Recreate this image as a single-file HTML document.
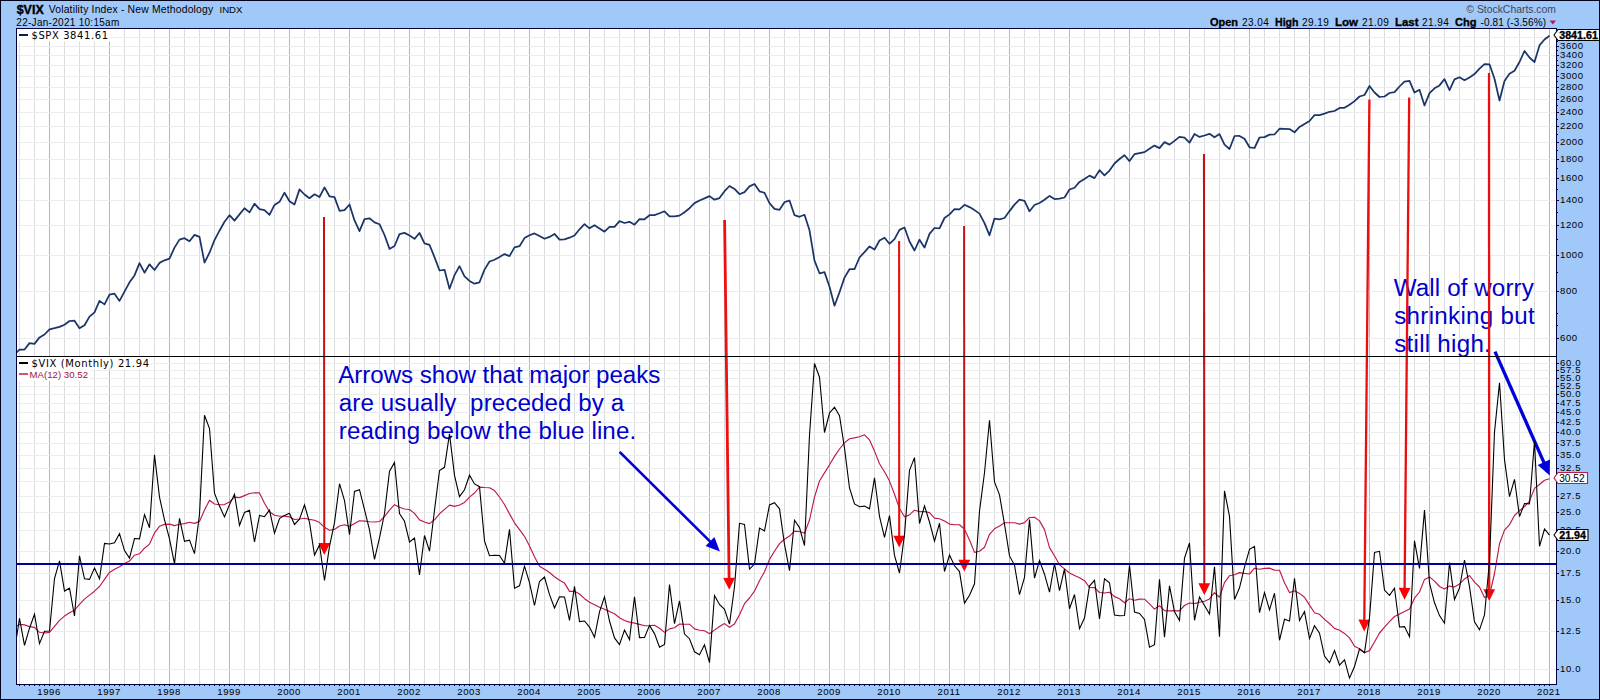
<!DOCTYPE html>
<html><head><meta charset="utf-8"><title>$VIX Volatility Index - New Methodology</title>
<style>
html,body{margin:0;padding:0;background:#a0c8f9;}
body{width:1600px;height:700px;overflow:hidden;position:relative;font-family:"Liberation Sans",sans-serif;}
svg{position:absolute;left:0;top:0;display:block}
text{font-family:"Liberation Sans",sans-serif;}
.ax{font-size:9.6px;fill:#000;letter-spacing:0.6px}
.yr{font-size:9.6px;fill:#000;text-anchor:middle;letter-spacing:0.6px}
.leg{font-family:"DejaVu Sans","Liberation Sans",sans-serif;font-size:10px;fill:#000}
.note{font-size:24.15px;fill:#0000cc}
</style></head><body>
<svg width="1600" height="700" viewBox="0 0 1600 700">
<rect x="0" y="0" width="1600" height="700" fill="#a0c8f9"/>
<rect x="16.5" y="28.5" width="1540.0" height="656.0" fill="#ffffff"/>

<g shape-rendering="crispEdges" stroke-width="1">
<line x1="19.5" y1="28.5" x2="19.5" y2="684.5" stroke="#dadce0"/>
<line x1="34.5" y1="28.5" x2="34.5" y2="684.5" stroke="#dadce0"/>
<line x1="49.5" y1="28.5" x2="49.5" y2="684.5" stroke="#b5b7be"/>
<line x1="64.5" y1="28.5" x2="64.5" y2="684.5" stroke="#dadce0"/>
<line x1="79.5" y1="28.5" x2="79.5" y2="684.5" stroke="#dadce0"/>
<line x1="94.5" y1="28.5" x2="94.5" y2="684.5" stroke="#dadce0"/>
<line x1="109.5" y1="28.5" x2="109.5" y2="684.5" stroke="#b5b7be"/>
<line x1="124.5" y1="28.5" x2="124.5" y2="684.5" stroke="#dadce0"/>
<line x1="139.5" y1="28.5" x2="139.5" y2="684.5" stroke="#dadce0"/>
<line x1="154.5" y1="28.5" x2="154.5" y2="684.5" stroke="#dadce0"/>
<line x1="169.5" y1="28.5" x2="169.5" y2="684.5" stroke="#b5b7be"/>
<line x1="184.5" y1="28.5" x2="184.5" y2="684.5" stroke="#dadce0"/>
<line x1="199.5" y1="28.5" x2="199.5" y2="684.5" stroke="#dadce0"/>
<line x1="214.5" y1="28.5" x2="214.5" y2="684.5" stroke="#dadce0"/>
<line x1="229.5" y1="28.5" x2="229.5" y2="684.5" stroke="#b5b7be"/>
<line x1="244.5" y1="28.5" x2="244.5" y2="684.5" stroke="#dadce0"/>
<line x1="259.5" y1="28.5" x2="259.5" y2="684.5" stroke="#dadce0"/>
<line x1="274.5" y1="28.5" x2="274.5" y2="684.5" stroke="#dadce0"/>
<line x1="289.5" y1="28.5" x2="289.5" y2="684.5" stroke="#b5b7be"/>
<line x1="304.5" y1="28.5" x2="304.5" y2="684.5" stroke="#dadce0"/>
<line x1="319.5" y1="28.5" x2="319.5" y2="684.5" stroke="#dadce0"/>
<line x1="334.5" y1="28.5" x2="334.5" y2="684.5" stroke="#dadce0"/>
<line x1="349.5" y1="28.5" x2="349.5" y2="684.5" stroke="#b5b7be"/>
<line x1="364.5" y1="28.5" x2="364.5" y2="684.5" stroke="#dadce0"/>
<line x1="379.5" y1="28.5" x2="379.5" y2="684.5" stroke="#dadce0"/>
<line x1="394.5" y1="28.5" x2="394.5" y2="684.5" stroke="#dadce0"/>
<line x1="409.5" y1="28.5" x2="409.5" y2="684.5" stroke="#b5b7be"/>
<line x1="424.5" y1="28.5" x2="424.5" y2="684.5" stroke="#dadce0"/>
<line x1="439.5" y1="28.5" x2="439.5" y2="684.5" stroke="#dadce0"/>
<line x1="454.5" y1="28.5" x2="454.5" y2="684.5" stroke="#dadce0"/>
<line x1="469.5" y1="28.5" x2="469.5" y2="684.5" stroke="#b5b7be"/>
<line x1="484.5" y1="28.5" x2="484.5" y2="684.5" stroke="#dadce0"/>
<line x1="499.5" y1="28.5" x2="499.5" y2="684.5" stroke="#dadce0"/>
<line x1="514.5" y1="28.5" x2="514.5" y2="684.5" stroke="#dadce0"/>
<line x1="529.5" y1="28.5" x2="529.5" y2="684.5" stroke="#b5b7be"/>
<line x1="544.5" y1="28.5" x2="544.5" y2="684.5" stroke="#dadce0"/>
<line x1="559.5" y1="28.5" x2="559.5" y2="684.5" stroke="#dadce0"/>
<line x1="574.5" y1="28.5" x2="574.5" y2="684.5" stroke="#dadce0"/>
<line x1="589.5" y1="28.5" x2="589.5" y2="684.5" stroke="#b5b7be"/>
<line x1="604.5" y1="28.5" x2="604.5" y2="684.5" stroke="#dadce0"/>
<line x1="619.5" y1="28.5" x2="619.5" y2="684.5" stroke="#dadce0"/>
<line x1="634.5" y1="28.5" x2="634.5" y2="684.5" stroke="#dadce0"/>
<line x1="649.5" y1="28.5" x2="649.5" y2="684.5" stroke="#b5b7be"/>
<line x1="664.5" y1="28.5" x2="664.5" y2="684.5" stroke="#dadce0"/>
<line x1="679.5" y1="28.5" x2="679.5" y2="684.5" stroke="#dadce0"/>
<line x1="694.5" y1="28.5" x2="694.5" y2="684.5" stroke="#dadce0"/>
<line x1="709.5" y1="28.5" x2="709.5" y2="684.5" stroke="#b5b7be"/>
<line x1="724.5" y1="28.5" x2="724.5" y2="684.5" stroke="#dadce0"/>
<line x1="739.5" y1="28.5" x2="739.5" y2="684.5" stroke="#dadce0"/>
<line x1="754.5" y1="28.5" x2="754.5" y2="684.5" stroke="#dadce0"/>
<line x1="769.5" y1="28.5" x2="769.5" y2="684.5" stroke="#b5b7be"/>
<line x1="784.5" y1="28.5" x2="784.5" y2="684.5" stroke="#dadce0"/>
<line x1="799.5" y1="28.5" x2="799.5" y2="684.5" stroke="#dadce0"/>
<line x1="814.5" y1="28.5" x2="814.5" y2="684.5" stroke="#dadce0"/>
<line x1="829.5" y1="28.5" x2="829.5" y2="684.5" stroke="#b5b7be"/>
<line x1="844.5" y1="28.5" x2="844.5" y2="684.5" stroke="#dadce0"/>
<line x1="859.5" y1="28.5" x2="859.5" y2="684.5" stroke="#dadce0"/>
<line x1="874.5" y1="28.5" x2="874.5" y2="684.5" stroke="#dadce0"/>
<line x1="889.5" y1="28.5" x2="889.5" y2="684.5" stroke="#b5b7be"/>
<line x1="904.5" y1="28.5" x2="904.5" y2="684.5" stroke="#dadce0"/>
<line x1="919.5" y1="28.5" x2="919.5" y2="684.5" stroke="#dadce0"/>
<line x1="934.5" y1="28.5" x2="934.5" y2="684.5" stroke="#dadce0"/>
<line x1="949.5" y1="28.5" x2="949.5" y2="684.5" stroke="#b5b7be"/>
<line x1="964.5" y1="28.5" x2="964.5" y2="684.5" stroke="#dadce0"/>
<line x1="979.5" y1="28.5" x2="979.5" y2="684.5" stroke="#dadce0"/>
<line x1="994.5" y1="28.5" x2="994.5" y2="684.5" stroke="#dadce0"/>
<line x1="1009.5" y1="28.5" x2="1009.5" y2="684.5" stroke="#b5b7be"/>
<line x1="1024.5" y1="28.5" x2="1024.5" y2="684.5" stroke="#dadce0"/>
<line x1="1039.5" y1="28.5" x2="1039.5" y2="684.5" stroke="#dadce0"/>
<line x1="1054.5" y1="28.5" x2="1054.5" y2="684.5" stroke="#dadce0"/>
<line x1="1069.5" y1="28.5" x2="1069.5" y2="684.5" stroke="#b5b7be"/>
<line x1="1084.5" y1="28.5" x2="1084.5" y2="684.5" stroke="#dadce0"/>
<line x1="1099.5" y1="28.5" x2="1099.5" y2="684.5" stroke="#dadce0"/>
<line x1="1114.5" y1="28.5" x2="1114.5" y2="684.5" stroke="#dadce0"/>
<line x1="1129.5" y1="28.5" x2="1129.5" y2="684.5" stroke="#b5b7be"/>
<line x1="1144.5" y1="28.5" x2="1144.5" y2="684.5" stroke="#dadce0"/>
<line x1="1159.5" y1="28.5" x2="1159.5" y2="684.5" stroke="#dadce0"/>
<line x1="1174.5" y1="28.5" x2="1174.5" y2="684.5" stroke="#dadce0"/>
<line x1="1189.5" y1="28.5" x2="1189.5" y2="684.5" stroke="#b5b7be"/>
<line x1="1204.5" y1="28.5" x2="1204.5" y2="684.5" stroke="#dadce0"/>
<line x1="1219.5" y1="28.5" x2="1219.5" y2="684.5" stroke="#dadce0"/>
<line x1="1234.5" y1="28.5" x2="1234.5" y2="684.5" stroke="#dadce0"/>
<line x1="1249.5" y1="28.5" x2="1249.5" y2="684.5" stroke="#b5b7be"/>
<line x1="1264.5" y1="28.5" x2="1264.5" y2="684.5" stroke="#dadce0"/>
<line x1="1279.5" y1="28.5" x2="1279.5" y2="684.5" stroke="#dadce0"/>
<line x1="1294.5" y1="28.5" x2="1294.5" y2="684.5" stroke="#dadce0"/>
<line x1="1309.5" y1="28.5" x2="1309.5" y2="684.5" stroke="#b5b7be"/>
<line x1="1324.5" y1="28.5" x2="1324.5" y2="684.5" stroke="#dadce0"/>
<line x1="1339.5" y1="28.5" x2="1339.5" y2="684.5" stroke="#dadce0"/>
<line x1="1354.5" y1="28.5" x2="1354.5" y2="684.5" stroke="#dadce0"/>
<line x1="1369.5" y1="28.5" x2="1369.5" y2="684.5" stroke="#b5b7be"/>
<line x1="1384.5" y1="28.5" x2="1384.5" y2="684.5" stroke="#dadce0"/>
<line x1="1399.5" y1="28.5" x2="1399.5" y2="684.5" stroke="#dadce0"/>
<line x1="1414.5" y1="28.5" x2="1414.5" y2="684.5" stroke="#dadce0"/>
<line x1="1429.5" y1="28.5" x2="1429.5" y2="684.5" stroke="#b5b7be"/>
<line x1="1444.5" y1="28.5" x2="1444.5" y2="684.5" stroke="#dadce0"/>
<line x1="1459.5" y1="28.5" x2="1459.5" y2="684.5" stroke="#dadce0"/>
<line x1="1474.5" y1="28.5" x2="1474.5" y2="684.5" stroke="#dadce0"/>
<line x1="1489.5" y1="28.5" x2="1489.5" y2="684.5" stroke="#b5b7be"/>
<line x1="1504.5" y1="28.5" x2="1504.5" y2="684.5" stroke="#dadce0"/>
<line x1="1519.5" y1="28.5" x2="1519.5" y2="684.5" stroke="#dadce0"/>
<line x1="1534.5" y1="28.5" x2="1534.5" y2="684.5" stroke="#dadce0"/>
<line x1="1549.5" y1="28.5" x2="1549.5" y2="684.5" stroke="#b5b7be"/>
<line x1="16.5" y1="338.5" x2="1556.5" y2="338.5" stroke="#ebecee"/>
<line x1="16.5" y1="291.5" x2="1556.5" y2="291.5" stroke="#ebecee"/>
<line x1="16.5" y1="255.5" x2="1556.5" y2="255.5" stroke="#ebecee"/>
<line x1="16.5" y1="225.5" x2="1556.5" y2="225.5" stroke="#ebecee"/>
<line x1="16.5" y1="200.5" x2="1556.5" y2="200.5" stroke="#ebecee"/>
<line x1="16.5" y1="178.5" x2="1556.5" y2="178.5" stroke="#ebecee"/>
<line x1="16.5" y1="159.5" x2="1556.5" y2="159.5" stroke="#ebecee"/>
<line x1="16.5" y1="142.5" x2="1556.5" y2="142.5" stroke="#ebecee"/>
<line x1="16.5" y1="126.5" x2="1556.5" y2="126.5" stroke="#ebecee"/>
<line x1="16.5" y1="112.5" x2="1556.5" y2="112.5" stroke="#ebecee"/>
<line x1="16.5" y1="99.5" x2="1556.5" y2="99.5" stroke="#ebecee"/>
<line x1="16.5" y1="87.5" x2="1556.5" y2="87.5" stroke="#ebecee"/>
<line x1="16.5" y1="76.5" x2="1556.5" y2="76.5" stroke="#ebecee"/>
<line x1="16.5" y1="65.5" x2="1556.5" y2="65.5" stroke="#ebecee"/>
<line x1="16.5" y1="55.5" x2="1556.5" y2="55.5" stroke="#ebecee"/>
<line x1="16.5" y1="46.5" x2="1556.5" y2="46.5" stroke="#ebecee"/>
<line x1="16.5" y1="37.5" x2="1556.5" y2="37.5" stroke="#ebecee"/>
<line x1="16.5" y1="669.5" x2="1556.5" y2="669.5" stroke="#ebecee"/>
<line x1="16.5" y1="631.5" x2="1556.5" y2="631.5" stroke="#ebecee"/>
<line x1="16.5" y1="600.5" x2="1556.5" y2="600.5" stroke="#ebecee"/>
<line x1="16.5" y1="573.5" x2="1556.5" y2="573.5" stroke="#ebecee"/>
<line x1="16.5" y1="551.5" x2="1556.5" y2="551.5" stroke="#ebecee"/>
<line x1="16.5" y1="530.5" x2="1556.5" y2="530.5" stroke="#ebecee"/>
<line x1="16.5" y1="512.5" x2="1556.5" y2="512.5" stroke="#ebecee"/>
<line x1="16.5" y1="496.5" x2="1556.5" y2="496.5" stroke="#ebecee"/>
<line x1="16.5" y1="481.5" x2="1556.5" y2="481.5" stroke="#ebecee"/>
<line x1="16.5" y1="468.5" x2="1556.5" y2="468.5" stroke="#ebecee"/>
<line x1="16.5" y1="455.5" x2="1556.5" y2="455.5" stroke="#ebecee"/>
<line x1="16.5" y1="443.5" x2="1556.5" y2="443.5" stroke="#ebecee"/>
<line x1="16.5" y1="432.5" x2="1556.5" y2="432.5" stroke="#ebecee"/>
<line x1="16.5" y1="422.5" x2="1556.5" y2="422.5" stroke="#ebecee"/>
<line x1="16.5" y1="412.5" x2="1556.5" y2="412.5" stroke="#ebecee"/>
<line x1="16.5" y1="403.5" x2="1556.5" y2="403.5" stroke="#ebecee"/>
<line x1="16.5" y1="394.5" x2="1556.5" y2="394.5" stroke="#ebecee"/>
<line x1="16.5" y1="386.5" x2="1556.5" y2="386.5" stroke="#ebecee"/>
<line x1="16.5" y1="378.5" x2="1556.5" y2="378.5" stroke="#ebecee"/>
<line x1="16.5" y1="370.5" x2="1556.5" y2="370.5" stroke="#ebecee"/>
<line x1="16.5" y1="363.5" x2="1556.5" y2="363.5" stroke="#ebecee"/>
</g>
<text class="note" x="338.3" y="382.6" textLength="322.0" lengthAdjust="spacing" xml:space="preserve">Arrows show that major peaks</text>
<text class="note" x="338.8" y="410.5" textLength="285.4" lengthAdjust="spacing" xml:space="preserve">are usually  preceded by a</text>
<text class="note" x="338.8" y="438.5" textLength="297.4" lengthAdjust="spacing" xml:space="preserve">reading below the blue line.</text>
<text class="note" x="1393.8" y="295.6" textLength="140.0" lengthAdjust="spacing" xml:space="preserve">Wall of worry</text>
<text class="note" x="1394.2" y="323.5" textLength="140.6" lengthAdjust="spacing" xml:space="preserve">shrinking but</text>
<text class="note" x="1394.2" y="351.6" textLength="96.6" lengthAdjust="spacing" xml:space="preserve">still high.</text>
<line x1="324.0" y1="217.0" x2="324.3" y2="544.1" stroke="#c81010" stroke-width="2.0"/>
<path d="M324.3,554.9 L318.4,543.1 L330.2,543.1 Z" fill="#ff0000"/>
<line x1="724.6" y1="220.0" x2="729.1" y2="578.9" stroke="#ee1010" stroke-width="2.8"/>
<path d="M729.2,589.7 L723.2,578.0 L735.0,577.8 Z" fill="#ff0000"/>
<line x1="899.1" y1="241.0" x2="899.2" y2="536.7" stroke="#e81010" stroke-width="2.1"/>
<path d="M899.2,547.5 L893.3,535.7 L905.1,535.7 Z" fill="#ff0000"/>
<line x1="964.1" y1="226.0" x2="964.3" y2="560.7" stroke="#c41010" stroke-width="2.0"/>
<path d="M964.3,571.5 L958.4,559.7 L970.2,559.7 Z" fill="#ff0000"/>
<line x1="1204.0" y1="154.0" x2="1204.3" y2="584.2" stroke="#c01414" stroke-width="2.1"/>
<path d="M1204.3,595.0 L1198.4,583.2 L1210.2,583.2 Z" fill="#ff0000"/>
<line x1="1369.4" y1="99.4" x2="1364.3" y2="620.7" stroke="#ea0e0e" stroke-width="2.3"/>
<path d="M1364.2,631.5 L1358.4,619.6 L1370.2,619.8 Z" fill="#ff0000"/>
<line x1="1409.2" y1="97.5" x2="1404.6" y2="588.9" stroke="#ea0e0e" stroke-width="2.3"/>
<path d="M1404.5,599.7 L1398.7,587.8 L1410.5,588.0 Z" fill="#ff0000"/>
<line x1="1489.0" y1="73.0" x2="1489.2" y2="590.2" stroke="#ea0e0e" stroke-width="2.3"/>
<path d="M1489.2,601.0 L1483.3,589.2 L1495.1,589.2 Z" fill="#ff0000"/>
<line x1="619.6" y1="451.8" x2="710.7" y2="542.2" stroke="#0000d8" stroke-width="2.6"/>
<path d="M719.9,551.4 L705.6,546.0 L714.4,537.1 Z" fill="#0000d8"/>
<line x1="1495.0" y1="351.6" x2="1544.2" y2="463.2" stroke="#0000d8" stroke-width="3.3"/>
<path d="M1549.7,475.5 L1537.7,465.0 L1550.0,459.5 Z" fill="#0000d8"/>
<defs><clipPath id="c1"><rect x="16.5" y="28.5" width="1540.0" height="328.0"/></clipPath><clipPath id="c2"><rect x="16.5" y="356.5" width="1540.0" height="328.0"/></clipPath></defs>
<polyline clip-path="url(#c1)" points="14.5,354.6 19.5,349.5 24.5,349.5 29.5,343.1 34.5,343.9 39.5,337.4 44.5,334.5 49.5,329.3 54.5,328.2 59.5,326.9 64.5,324.7 69.5,321.0 74.5,320.7 79.5,328.3 84.5,325.3 89.5,316.6 94.5,312.4 99.5,300.9 104.5,304.4 109.5,294.7 114.5,293.7 119.5,300.9 124.5,291.6 129.5,282.3 134.5,275.4 139.5,263.1 144.5,272.7 149.5,264.3 154.5,270.0 159.5,262.9 164.5,260.3 169.5,258.7 174.5,247.6 179.5,239.6 184.5,238.2 189.5,241.3 194.5,234.9 199.5,236.9 204.5,262.6 209.5,252.7 214.5,240.1 219.5,230.7 224.5,221.8 229.5,215.2 234.5,220.6 239.5,214.4 244.5,208.3 249.5,212.4 254.5,203.7 259.5,209.1 264.5,210.1 269.5,214.8 274.5,204.9 279.5,201.8 284.5,192.7 289.5,201.2 294.5,204.5 299.5,189.4 304.5,194.5 309.5,198.2 314.5,194.3 319.5,197.0 324.5,187.4 329.5,196.3 334.5,197.1 339.5,210.8 344.5,210.1 349.5,204.5 354.5,220.4 359.5,231.2 364.5,219.1 369.5,218.3 374.5,222.4 379.5,224.2 384.5,235.0 389.5,248.9 394.5,246.0 399.5,234.1 404.5,232.9 409.5,235.5 414.5,238.9 419.5,233.0 424.5,243.4 429.5,244.8 434.5,257.1 439.5,270.5 444.5,269.8 449.5,288.8 454.5,275.2 459.5,266.2 464.5,276.3 469.5,280.9 474.5,283.7 479.5,282.3 484.5,269.6 489.5,261.5 494.5,259.7 499.5,257.0 504.5,254.1 509.5,256.1 514.5,247.4 519.5,246.2 524.5,238.1 529.5,235.3 534.5,233.4 539.5,236.1 544.5,238.8 549.5,236.9 554.5,233.9 559.5,239.6 564.5,239.3 569.5,237.7 574.5,235.5 579.5,229.3 584.5,224.1 589.5,228.3 594.5,225.2 599.5,228.4 604.5,231.7 609.5,226.9 614.5,226.9 619.5,221.1 624.5,223.0 629.5,221.8 634.5,224.7 639.5,219.1 644.5,219.3 649.5,215.2 654.5,215.1 659.5,213.3 664.5,211.3 669.5,216.4 674.5,216.4 679.5,215.6 684.5,212.2 689.5,208.2 694.5,203.1 699.5,200.5 704.5,198.4 709.5,196.1 714.5,199.7 719.5,198.1 724.5,191.2 729.5,186.0 734.5,188.9 739.5,194.2 744.5,192.1 749.5,186.4 754.5,184.0 759.5,191.3 764.5,192.8 769.5,203.1 774.5,208.8 779.5,209.8 784.5,202.2 789.5,200.5 794.5,215.2 799.5,216.8 804.5,214.8 809.5,230.3 814.5,260.6 819.5,273.3 824.5,272.1 829.5,286.7 834.5,305.7 839.5,292.3 844.5,277.6 849.5,269.2 854.5,269.2 859.5,257.5 864.5,252.1 869.5,246.4 874.5,249.6 879.5,240.5 884.5,237.7 889.5,243.8 894.5,239.2 899.5,229.9 904.5,227.5 909.5,241.5 914.5,250.5 919.5,239.7 924.5,247.6 929.5,233.9 934.5,228.0 939.5,228.4 944.5,218.0 949.5,214.4 954.5,209.2 959.5,209.4 964.5,204.8 969.5,207.1 974.5,210.1 979.5,213.6 984.5,223.1 989.5,235.3 994.5,218.6 999.5,219.4 1004.5,218.0 1009.5,211.1 1014.5,204.6 1019.5,199.6 1024.5,200.8 1029.5,211.3 1034.5,205.0 1039.5,203.0 1044.5,199.8 1049.5,195.9 1054.5,199.1 1059.5,198.7 1064.5,197.5 1069.5,189.5 1074.5,187.7 1079.5,181.9 1084.5,179.0 1089.5,175.6 1094.5,178.1 1099.5,170.2 1104.5,175.4 1109.5,170.6 1114.5,163.5 1119.5,159.0 1124.5,155.2 1129.5,161.1 1134.5,154.2 1139.5,153.1 1144.5,152.1 1149.5,148.7 1154.5,145.6 1159.5,148.1 1164.5,142.1 1169.5,144.6 1174.5,140.9 1179.5,136.9 1184.5,137.6 1189.5,142.7 1194.5,134.0 1199.5,136.9 1204.5,135.5 1209.5,133.8 1214.5,137.3 1219.5,134.1 1224.5,144.6 1229.5,149.0 1234.5,136.0 1239.5,135.9 1244.5,138.8 1249.5,147.3 1254.5,148.0 1259.5,137.5 1264.5,137.1 1269.5,134.6 1274.5,134.5 1279.5,128.7 1284.5,128.9 1289.5,129.1 1294.5,132.3 1299.5,126.9 1304.5,123.9 1309.5,121.0 1314.5,115.1 1319.5,115.1 1324.5,113.6 1329.5,111.8 1334.5,111.0 1339.5,107.9 1344.5,107.8 1349.5,104.7 1354.5,101.1 1359.5,96.5 1364.5,95.0 1369.5,86.0 1374.5,92.5 1379.5,97.0 1384.5,96.5 1389.5,93.0 1394.5,92.2 1399.5,86.5 1404.5,81.6 1409.5,80.9 1414.5,92.6 1419.5,89.8 1424.5,105.5 1429.5,93.1 1434.5,88.3 1439.5,85.4 1444.5,79.1 1449.5,90.2 1454.5,79.4 1459.5,77.2 1464.5,80.2 1469.5,77.4 1474.5,74.1 1479.5,68.7 1484.5,64.1 1489.5,64.3 1494.5,78.7 1499.5,100.5 1504.5,81.0 1509.5,73.8 1514.5,70.8 1519.5,62.0 1524.5,51.0 1529.5,57.5 1534.5,62.1 1539.5,45.4 1544.5,39.5 1549.5,35.8" fill="none" stroke="#1c3568" stroke-width="1.75" stroke-linejoin="round"/>
<polyline clip-path="url(#c2)" points="14.5,627.0 19.5,624.4 24.5,624.9 29.5,626.6 34.5,627.4 39.5,632.3 44.5,633.0 49.5,632.4 54.5,626.4 59.5,620.4 64.5,616.1 69.5,612.8 74.5,610.2 79.5,604.3 84.5,599.1 89.5,595.1 94.5,591.2 99.5,586.5 104.5,579.3 109.5,572.4 114.5,569.2 119.5,566.7 124.5,563.4 129.5,561.1 134.5,555.2 139.5,553.8 144.5,548.2 149.5,544.1 154.5,532.9 159.5,526.3 164.5,524.4 169.5,524.1 174.5,525.6 179.5,524.3 184.5,523.6 189.5,522.3 194.5,523.4 199.5,521.4 204.5,510.1 209.5,500.3 214.5,504.0 219.5,504.8 224.5,504.6 229.5,502.0 234.5,497.1 239.5,497.6 244.5,495.6 249.5,493.5 254.5,492.8 259.5,492.9 264.5,503.2 269.5,511.8 274.5,515.2 279.5,516.2 284.5,516.1 289.5,516.9 294.5,519.5 299.5,519.0 304.5,518.3 309.5,519.4 314.5,520.3 319.5,522.6 324.5,527.3 329.5,530.3 334.5,529.4 339.5,526.0 344.5,524.7 349.5,526.4 354.5,523.4 359.5,520.7 364.5,521.1 369.5,521.7 374.5,522.0 379.5,521.5 384.5,516.7 389.5,510.2 394.5,504.7 399.5,507.3 404.5,509.0 409.5,509.5 414.5,513.4 419.5,519.9 424.5,522.0 429.5,523.6 434.5,519.8 439.5,513.8 444.5,509.4 449.5,505.1 454.5,506.4 459.5,505.0 464.5,502.4 469.5,497.1 474.5,493.0 479.5,487.1 484.5,487.5 489.5,487.7 494.5,490.6 499.5,497.0 504.5,504.5 509.5,513.9 514.5,522.8 519.5,529.7 524.5,536.3 529.5,546.0 534.5,556.8 539.5,566.2 544.5,569.3 549.5,572.5 554.5,576.8 559.5,580.3 564.5,583.1 569.5,591.4 574.5,591.2 579.5,594.0 584.5,598.7 589.5,602.3 594.5,604.7 599.5,607.3 604.5,609.2 609.5,611.4 614.5,613.8 619.5,617.7 624.5,620.5 629.5,622.1 634.5,623.1 639.5,624.4 644.5,625.7 649.5,625.6 654.5,625.3 659.5,628.2 664.5,632.4 669.5,628.9 674.5,627.7 679.5,624.0 684.5,624.3 689.5,624.2 694.5,628.9 699.5,630.2 704.5,630.8 709.5,633.7 714.5,630.1 719.5,626.5 724.5,623.6 729.5,627.3 734.5,623.9 739.5,614.8 744.5,603.7 749.5,598.0 754.5,591.1 759.5,580.7 764.5,571.7 769.5,559.4 774.5,551.3 779.5,543.6 784.5,539.2 789.5,536.1 794.5,531.1 799.5,531.5 804.5,533.2 809.5,520.0 814.5,497.1 819.5,481.0 824.5,472.9 829.5,464.7 834.5,456.4 839.5,449.0 844.5,442.9 849.5,438.8 854.5,437.9 859.5,436.8 864.5,434.8 869.5,439.9 874.5,451.1 879.5,463.8 884.5,471.8 889.5,481.1 894.5,494.3 899.5,508.5 904.5,516.7 909.5,514.9 914.5,510.2 919.5,511.6 924.5,511.5 929.5,512.6 934.5,518.1 939.5,518.7 944.5,521.0 949.5,524.1 954.5,524.8 959.5,524.7 964.5,529.2 969.5,540.0 974.5,552.4 979.5,551.2 984.5,547.3 989.5,534.3 994.5,528.8 999.5,526.1 1004.5,522.7 1009.5,522.7 1014.5,522.7 1019.5,524.1 1024.5,522.6 1029.5,517.5 1034.5,517.2 1039.5,520.9 1044.5,529.6 1049.5,547.6 1054.5,555.7 1059.5,564.7 1064.5,568.9 1069.5,573.0 1074.5,575.4 1079.5,577.7 1084.5,580.7 1089.5,587.4 1094.5,587.6 1099.5,592.5 1104.5,593.0 1109.5,592.2 1114.5,596.6 1119.5,598.7 1124.5,602.8 1129.5,598.8 1134.5,600.2 1139.5,599.1 1144.5,599.2 1149.5,603.9 1154.5,609.1 1159.5,605.7 1164.5,610.6 1169.5,610.9 1174.5,610.6 1179.5,610.9 1184.5,605.5 1189.5,603.0 1194.5,603.6 1199.5,602.3 1204.5,601.2 1209.5,598.9 1214.5,592.7 1219.5,597.2 1224.5,582.6 1229.5,575.7 1234.5,574.8 1239.5,572.6 1244.5,573.4 1249.5,574.0 1254.5,568.2 1259.5,569.3 1264.5,568.4 1269.5,568.1 1274.5,570.1 1279.5,570.3 1284.5,582.7 1289.5,592.6 1294.5,590.8 1299.5,593.4 1304.5,597.2 1309.5,605.1 1314.5,612.7 1319.5,614.3 1324.5,619.4 1329.5,623.5 1334.5,628.4 1339.5,630.2 1344.5,633.4 1349.5,637.9 1354.5,646.2 1359.5,648.8 1364.5,652.6 1369.5,650.6 1374.5,642.0 1379.5,633.0 1384.5,627.2 1389.5,621.7 1394.5,616.5 1399.5,613.9 1404.5,611.5 1409.5,608.9 1414.5,598.2 1419.5,592.0 1424.5,579.4 1429.5,576.9 1434.5,581.1 1439.5,586.5 1444.5,589.0 1449.5,586.1 1454.5,587.0 1459.5,584.1 1464.5,578.9 1469.5,575.5 1474.5,582.2 1479.5,587.0 1484.5,597.5 1489.5,595.4 1494.5,573.5 1499.5,543.8 1504.5,530.1 1509.5,524.6 1514.5,515.5 1519.5,510.7 1524.5,506.6 1529.5,501.1 1534.5,488.4 1539.5,484.5 1544.5,480.2 1549.5,478.8" fill="none" stroke="#bd1a45" stroke-width="1.15" stroke-linejoin="round"/>
<polyline clip-path="url(#c2)" points="14.5,650.4 19.5,618.4 24.5,645.4 29.5,628.2 34.5,614.2 39.5,643.6 44.5,631.2 49.5,631.0 54.5,578.5 59.5,560.9 64.5,591.1 69.5,588.2 74.5,616.0 79.5,555.8 84.5,578.8 89.5,579.4 94.5,568.0 99.5,578.8 104.5,543.4 109.5,544.0 114.5,542.7 119.5,533.7 124.5,550.6 129.5,558.1 134.5,538.5 139.5,538.9 144.5,514.6 149.5,527.8 154.5,454.9 159.5,497.1 164.5,519.8 169.5,538.9 174.5,563.9 179.5,518.3 184.5,541.3 189.5,540.1 194.5,553.6 199.5,514.3 204.5,415.2 209.5,428.5 214.5,493.2 219.5,506.1 224.5,516.9 229.5,504.6 234.5,494.3 239.5,525.3 244.5,512.4 249.5,510.3 254.5,542.0 259.5,515.4 264.5,516.7 269.5,510.1 274.5,533.2 279.5,518.6 284.5,515.4 289.5,513.3 294.5,524.4 299.5,519.1 304.5,504.9 309.5,522.4 314.5,555.1 319.5,544.9 324.5,580.5 329.5,546.3 334.5,522.6 339.5,483.7 344.5,500.7 349.5,534.6 354.5,491.4 359.5,489.7 364.5,509.7 369.5,529.9 374.5,559.3 379.5,537.8 384.5,513.5 389.5,471.1 394.5,462.6 399.5,513.6 404.5,521.3 409.5,542.0 414.5,538.0 419.5,574.9 424.5,535.5 429.5,551.2 434.5,510.2 439.5,470.5 444.5,467.3 449.5,433.9 454.5,475.4 459.5,496.6 464.5,489.8 469.5,475.2 474.5,483.9 479.5,486.7 484.5,541.0 489.5,555.7 494.5,555.2 499.5,555.5 504.5,563.2 509.5,529.3 514.5,588.2 519.5,585.8 524.5,566.2 529.5,582.6 534.5,605.5 539.5,581.5 544.5,577.0 549.5,594.7 554.5,608.0 559.5,596.7 564.5,597.0 569.5,620.3 574.5,586.4 579.5,621.6 584.5,621.0 589.5,627.1 594.5,637.3 599.5,611.8 604.5,596.8 609.5,621.0 614.5,637.9 619.5,644.7 624.5,630.1 629.5,639.6 634.5,596.7 639.5,637.6 644.5,637.4 649.5,625.4 654.5,633.6 659.5,647.3 664.5,644.4 669.5,584.6 674.5,623.7 679.5,600.8 684.5,634.1 689.5,638.7 694.5,651.8 699.5,654.7 704.5,644.8 709.5,662.6 714.5,595.5 719.5,604.4 724.5,609.4 729.5,624.1 734.5,586.8 739.5,523.3 744.5,524.4 749.5,569.1 754.5,564.1 759.5,528.1 764.5,530.9 769.5,504.9 774.5,502.7 779.5,508.8 784.5,544.4 789.5,570.7 794.5,520.3 799.5,527.6 804.5,545.6 809.5,435.2 814.5,363.5 819.5,377.2 824.5,432.5 829.5,413.0 834.5,407.3 839.5,415.7 844.5,448.2 849.5,488.0 854.5,503.9 859.5,506.7 864.5,506.1 869.5,508.8 874.5,477.8 879.5,516.3 884.5,537.3 889.5,515.5 894.5,555.4 899.5,573.0 904.5,534.4 909.5,470.3 914.5,457.6 919.5,523.5 924.5,505.9 929.5,522.0 934.5,541.1 939.5,523.2 944.5,571.5 949.5,555.1 954.5,565.8 959.5,571.6 964.5,603.1 969.5,595.2 974.5,583.8 979.5,511.2 984.5,472.7 989.5,420.3 994.5,482.0 999.5,494.8 1004.5,524.2 1009.5,555.9 1014.5,565.1 1019.5,594.7 1024.5,577.4 1029.5,519.5 1034.5,578.1 1039.5,560.5 1044.5,574.2 1049.5,592.1 1054.5,563.5 1059.5,590.6 1064.5,568.9 1069.5,608.7 1074.5,594.5 1079.5,628.7 1084.5,618.0 1089.5,586.1 1094.5,580.3 1099.5,618.9 1104.5,578.8 1109.5,582.9 1114.5,615.1 1119.5,615.8 1124.5,615.5 1129.5,565.2 1134.5,612.1 1139.5,613.5 1144.5,619.4 1149.5,647.2 1154.5,644.7 1159.5,579.4 1164.5,637.1 1169.5,585.9 1174.5,611.7 1179.5,620.4 1184.5,558.1 1189.5,543.0 1194.5,620.3 1199.5,597.0 1204.5,605.5 1209.5,614.0 1214.5,566.9 1219.5,636.7 1224.5,490.9 1229.5,516.4 1234.5,599.5 1239.5,587.8 1244.5,567.1 1249.5,549.4 1254.5,546.4 1259.5,612.7 1264.5,592.5 1269.5,609.8 1274.5,593.2 1279.5,640.3 1284.5,619.3 1289.5,621.0 1294.5,578.3 1299.5,620.4 1304.5,611.6 1309.5,638.6 1314.5,625.8 1319.5,633.2 1324.5,656.1 1329.5,662.7 1334.5,650.5 1339.5,665.2 1344.5,659.8 1349.5,678.2 1354.5,666.5 1359.5,649.0 1364.5,652.7 1369.5,617.8 1374.5,552.4 1379.5,551.3 1384.5,590.0 1389.5,595.4 1394.5,588.3 1399.5,627.0 1404.5,626.6 1409.5,636.7 1414.5,540.9 1419.5,568.4 1424.5,510.1 1429.5,583.2 1434.5,602.8 1439.5,615.6 1444.5,623.2 1449.5,562.5 1454.5,599.4 1459.5,588.0 1464.5,560.0 1469.5,586.7 1474.5,621.9 1479.5,629.8 1484.5,614.8 1489.5,561.3 1494.5,432.1 1499.5,382.7 1504.5,459.6 1509.5,496.6 1514.5,479.3 1519.5,516.6 1524.5,503.5 1529.5,503.8 1534.5,441.2 1539.5,546.3 1544.5,529.0 1549.5,535.2" fill="none" stroke="#000000" stroke-width="1.1" stroke-linejoin="miter"/>
<line x1="16.5" y1="564" x2="1556.5" y2="564" stroke="#000096" stroke-width="2"/>
<g shape-rendering="crispEdges"><line x1="16.5" y1="356.5" x2="1556.5" y2="356.5" stroke="#000" stroke-width="1"/><rect x="16.5" y="28.5" width="1540.0" height="656.0" fill="none" stroke="#00003c" stroke-width="1"/>
<rect x="0" y="0" width="1600" height="1" fill="#03031c"/><rect x="0" y="0" width="1" height="700" fill="#03031c"/><rect x="0" y="699" width="1600" height="1" fill="#03031c"/><rect x="1599" y="0" width="1" height="700" fill="#03031c"/>
</g>
<g stroke="#00003c" stroke-width="1" shape-rendering="crispEdges">
<line x1="1556.5" y1="338.5" x2="1559.0" y2="338.5"/>
<line x1="1556.5" y1="291.5" x2="1559.0" y2="291.5"/>
<line x1="1556.5" y1="255.5" x2="1559.0" y2="255.5"/>
<line x1="1556.5" y1="225.5" x2="1559.0" y2="225.5"/>
<line x1="1556.5" y1="200.5" x2="1559.0" y2="200.5"/>
<line x1="1556.5" y1="178.5" x2="1559.0" y2="178.5"/>
<line x1="1556.5" y1="159.5" x2="1559.0" y2="159.5"/>
<line x1="1556.5" y1="142.5" x2="1559.0" y2="142.5"/>
<line x1="1556.5" y1="126.5" x2="1559.0" y2="126.5"/>
<line x1="1556.5" y1="112.5" x2="1559.0" y2="112.5"/>
<line x1="1556.5" y1="99.5" x2="1559.0" y2="99.5"/>
<line x1="1556.5" y1="87.5" x2="1559.0" y2="87.5"/>
<line x1="1556.5" y1="76.5" x2="1559.0" y2="76.5"/>
<line x1="1556.5" y1="65.5" x2="1559.0" y2="65.5"/>
<line x1="1556.5" y1="55.5" x2="1559.0" y2="55.5"/>
<line x1="1556.5" y1="46.5" x2="1559.0" y2="46.5"/>
<line x1="1556.5" y1="325.5" x2="1558.0" y2="325.5"/>
<line x1="1556.5" y1="313.5" x2="1558.0" y2="313.5"/>
<line x1="1556.5" y1="272.5" x2="1558.0" y2="272.5"/>
<line x1="1556.5" y1="239.5" x2="1558.0" y2="239.5"/>
<line x1="1556.5" y1="212.5" x2="1558.0" y2="212.5"/>
<line x1="1556.5" y1="189.5" x2="1558.0" y2="189.5"/>
<line x1="1556.5" y1="168.5" x2="1558.0" y2="168.5"/>
<line x1="1556.5" y1="150.5" x2="1558.0" y2="150.5"/>
<line x1="1556.5" y1="134.5" x2="1558.0" y2="134.5"/>
<line x1="1556.5" y1="119.5" x2="1558.0" y2="119.5"/>
<line x1="1556.5" y1="105.5" x2="1558.0" y2="105.5"/>
<line x1="1556.5" y1="93.5" x2="1558.0" y2="93.5"/>
<line x1="1556.5" y1="81.5" x2="1558.0" y2="81.5"/>
<line x1="1556.5" y1="70.5" x2="1558.0" y2="70.5"/>
<line x1="1556.5" y1="60.5" x2="1558.0" y2="60.5"/>
<line x1="1556.5" y1="50.5" x2="1558.0" y2="50.5"/>
<line x1="1556.5" y1="41.5" x2="1558.0" y2="41.5"/>
<line x1="1556.5" y1="37.5" x2="1558.0" y2="37.5"/>
<line x1="1556.5" y1="669.5" x2="1559.0" y2="669.5"/>
<line x1="1556.5" y1="631.5" x2="1559.0" y2="631.5"/>
<line x1="1556.5" y1="600.5" x2="1559.0" y2="600.5"/>
<line x1="1556.5" y1="573.5" x2="1559.0" y2="573.5"/>
<line x1="1556.5" y1="551.5" x2="1559.0" y2="551.5"/>
<line x1="1556.5" y1="530.5" x2="1559.0" y2="530.5"/>
<line x1="1556.5" y1="512.5" x2="1559.0" y2="512.5"/>
<line x1="1556.5" y1="496.5" x2="1559.0" y2="496.5"/>
<line x1="1556.5" y1="481.5" x2="1559.0" y2="481.5"/>
<line x1="1556.5" y1="468.5" x2="1559.0" y2="468.5"/>
<line x1="1556.5" y1="455.5" x2="1559.0" y2="455.5"/>
<line x1="1556.5" y1="443.5" x2="1559.0" y2="443.5"/>
<line x1="1556.5" y1="432.5" x2="1559.0" y2="432.5"/>
<line x1="1556.5" y1="422.5" x2="1559.0" y2="422.5"/>
<line x1="1556.5" y1="412.5" x2="1559.0" y2="412.5"/>
<line x1="1556.5" y1="403.5" x2="1559.0" y2="403.5"/>
<line x1="1556.5" y1="394.5" x2="1559.0" y2="394.5"/>
<line x1="1556.5" y1="386.5" x2="1559.0" y2="386.5"/>
<line x1="1556.5" y1="378.5" x2="1559.0" y2="378.5"/>
<line x1="1556.5" y1="370.5" x2="1559.0" y2="370.5"/>
<line x1="1556.5" y1="363.5" x2="1559.0" y2="363.5"/>
<line x1="19.5" y1="684.5" x2="19.5" y2="686.0"/>
<line x1="24.5" y1="684.5" x2="24.5" y2="686.0"/>
<line x1="29.5" y1="684.5" x2="29.5" y2="686.0"/>
<line x1="34.5" y1="684.5" x2="34.5" y2="686.0"/>
<line x1="39.5" y1="684.5" x2="39.5" y2="686.0"/>
<line x1="44.5" y1="684.5" x2="44.5" y2="686.0"/>
<line x1="49.5" y1="684.5" x2="49.5" y2="686.0"/>
<line x1="54.5" y1="684.5" x2="54.5" y2="686.0"/>
<line x1="59.5" y1="684.5" x2="59.5" y2="686.0"/>
<line x1="64.5" y1="684.5" x2="64.5" y2="686.0"/>
<line x1="69.5" y1="684.5" x2="69.5" y2="686.0"/>
<line x1="74.5" y1="684.5" x2="74.5" y2="686.0"/>
<line x1="79.5" y1="684.5" x2="79.5" y2="686.0"/>
<line x1="84.5" y1="684.5" x2="84.5" y2="686.0"/>
<line x1="89.5" y1="684.5" x2="89.5" y2="686.0"/>
<line x1="94.5" y1="684.5" x2="94.5" y2="686.0"/>
<line x1="99.5" y1="684.5" x2="99.5" y2="686.0"/>
<line x1="104.5" y1="684.5" x2="104.5" y2="686.0"/>
<line x1="109.5" y1="684.5" x2="109.5" y2="686.0"/>
<line x1="114.5" y1="684.5" x2="114.5" y2="686.0"/>
<line x1="119.5" y1="684.5" x2="119.5" y2="686.0"/>
<line x1="124.5" y1="684.5" x2="124.5" y2="686.0"/>
<line x1="129.5" y1="684.5" x2="129.5" y2="686.0"/>
<line x1="134.5" y1="684.5" x2="134.5" y2="686.0"/>
<line x1="139.5" y1="684.5" x2="139.5" y2="686.0"/>
<line x1="144.5" y1="684.5" x2="144.5" y2="686.0"/>
<line x1="149.5" y1="684.5" x2="149.5" y2="686.0"/>
<line x1="154.5" y1="684.5" x2="154.5" y2="686.0"/>
<line x1="159.5" y1="684.5" x2="159.5" y2="686.0"/>
<line x1="164.5" y1="684.5" x2="164.5" y2="686.0"/>
<line x1="169.5" y1="684.5" x2="169.5" y2="686.0"/>
<line x1="174.5" y1="684.5" x2="174.5" y2="686.0"/>
<line x1="179.5" y1="684.5" x2="179.5" y2="686.0"/>
<line x1="184.5" y1="684.5" x2="184.5" y2="686.0"/>
<line x1="189.5" y1="684.5" x2="189.5" y2="686.0"/>
<line x1="194.5" y1="684.5" x2="194.5" y2="686.0"/>
<line x1="199.5" y1="684.5" x2="199.5" y2="686.0"/>
<line x1="204.5" y1="684.5" x2="204.5" y2="686.0"/>
<line x1="209.5" y1="684.5" x2="209.5" y2="686.0"/>
<line x1="214.5" y1="684.5" x2="214.5" y2="686.0"/>
<line x1="219.5" y1="684.5" x2="219.5" y2="686.0"/>
<line x1="224.5" y1="684.5" x2="224.5" y2="686.0"/>
<line x1="229.5" y1="684.5" x2="229.5" y2="686.0"/>
<line x1="234.5" y1="684.5" x2="234.5" y2="686.0"/>
<line x1="239.5" y1="684.5" x2="239.5" y2="686.0"/>
<line x1="244.5" y1="684.5" x2="244.5" y2="686.0"/>
<line x1="249.5" y1="684.5" x2="249.5" y2="686.0"/>
<line x1="254.5" y1="684.5" x2="254.5" y2="686.0"/>
<line x1="259.5" y1="684.5" x2="259.5" y2="686.0"/>
<line x1="264.5" y1="684.5" x2="264.5" y2="686.0"/>
<line x1="269.5" y1="684.5" x2="269.5" y2="686.0"/>
<line x1="274.5" y1="684.5" x2="274.5" y2="686.0"/>
<line x1="279.5" y1="684.5" x2="279.5" y2="686.0"/>
<line x1="284.5" y1="684.5" x2="284.5" y2="686.0"/>
<line x1="289.5" y1="684.5" x2="289.5" y2="686.0"/>
<line x1="294.5" y1="684.5" x2="294.5" y2="686.0"/>
<line x1="299.5" y1="684.5" x2="299.5" y2="686.0"/>
<line x1="304.5" y1="684.5" x2="304.5" y2="686.0"/>
<line x1="309.5" y1="684.5" x2="309.5" y2="686.0"/>
<line x1="314.5" y1="684.5" x2="314.5" y2="686.0"/>
<line x1="319.5" y1="684.5" x2="319.5" y2="686.0"/>
<line x1="324.5" y1="684.5" x2="324.5" y2="686.0"/>
<line x1="329.5" y1="684.5" x2="329.5" y2="686.0"/>
<line x1="334.5" y1="684.5" x2="334.5" y2="686.0"/>
<line x1="339.5" y1="684.5" x2="339.5" y2="686.0"/>
<line x1="344.5" y1="684.5" x2="344.5" y2="686.0"/>
<line x1="349.5" y1="684.5" x2="349.5" y2="686.0"/>
<line x1="354.5" y1="684.5" x2="354.5" y2="686.0"/>
<line x1="359.5" y1="684.5" x2="359.5" y2="686.0"/>
<line x1="364.5" y1="684.5" x2="364.5" y2="686.0"/>
<line x1="369.5" y1="684.5" x2="369.5" y2="686.0"/>
<line x1="374.5" y1="684.5" x2="374.5" y2="686.0"/>
<line x1="379.5" y1="684.5" x2="379.5" y2="686.0"/>
<line x1="384.5" y1="684.5" x2="384.5" y2="686.0"/>
<line x1="389.5" y1="684.5" x2="389.5" y2="686.0"/>
<line x1="394.5" y1="684.5" x2="394.5" y2="686.0"/>
<line x1="399.5" y1="684.5" x2="399.5" y2="686.0"/>
<line x1="404.5" y1="684.5" x2="404.5" y2="686.0"/>
<line x1="409.5" y1="684.5" x2="409.5" y2="686.0"/>
<line x1="414.5" y1="684.5" x2="414.5" y2="686.0"/>
<line x1="419.5" y1="684.5" x2="419.5" y2="686.0"/>
<line x1="424.5" y1="684.5" x2="424.5" y2="686.0"/>
<line x1="429.5" y1="684.5" x2="429.5" y2="686.0"/>
<line x1="434.5" y1="684.5" x2="434.5" y2="686.0"/>
<line x1="439.5" y1="684.5" x2="439.5" y2="686.0"/>
<line x1="444.5" y1="684.5" x2="444.5" y2="686.0"/>
<line x1="449.5" y1="684.5" x2="449.5" y2="686.0"/>
<line x1="454.5" y1="684.5" x2="454.5" y2="686.0"/>
<line x1="459.5" y1="684.5" x2="459.5" y2="686.0"/>
<line x1="464.5" y1="684.5" x2="464.5" y2="686.0"/>
<line x1="469.5" y1="684.5" x2="469.5" y2="686.0"/>
<line x1="474.5" y1="684.5" x2="474.5" y2="686.0"/>
<line x1="479.5" y1="684.5" x2="479.5" y2="686.0"/>
<line x1="484.5" y1="684.5" x2="484.5" y2="686.0"/>
<line x1="489.5" y1="684.5" x2="489.5" y2="686.0"/>
<line x1="494.5" y1="684.5" x2="494.5" y2="686.0"/>
<line x1="499.5" y1="684.5" x2="499.5" y2="686.0"/>
<line x1="504.5" y1="684.5" x2="504.5" y2="686.0"/>
<line x1="509.5" y1="684.5" x2="509.5" y2="686.0"/>
<line x1="514.5" y1="684.5" x2="514.5" y2="686.0"/>
<line x1="519.5" y1="684.5" x2="519.5" y2="686.0"/>
<line x1="524.5" y1="684.5" x2="524.5" y2="686.0"/>
<line x1="529.5" y1="684.5" x2="529.5" y2="686.0"/>
<line x1="534.5" y1="684.5" x2="534.5" y2="686.0"/>
<line x1="539.5" y1="684.5" x2="539.5" y2="686.0"/>
<line x1="544.5" y1="684.5" x2="544.5" y2="686.0"/>
<line x1="549.5" y1="684.5" x2="549.5" y2="686.0"/>
<line x1="554.5" y1="684.5" x2="554.5" y2="686.0"/>
<line x1="559.5" y1="684.5" x2="559.5" y2="686.0"/>
<line x1="564.5" y1="684.5" x2="564.5" y2="686.0"/>
<line x1="569.5" y1="684.5" x2="569.5" y2="686.0"/>
<line x1="574.5" y1="684.5" x2="574.5" y2="686.0"/>
<line x1="579.5" y1="684.5" x2="579.5" y2="686.0"/>
<line x1="584.5" y1="684.5" x2="584.5" y2="686.0"/>
<line x1="589.5" y1="684.5" x2="589.5" y2="686.0"/>
<line x1="594.5" y1="684.5" x2="594.5" y2="686.0"/>
<line x1="599.5" y1="684.5" x2="599.5" y2="686.0"/>
<line x1="604.5" y1="684.5" x2="604.5" y2="686.0"/>
<line x1="609.5" y1="684.5" x2="609.5" y2="686.0"/>
<line x1="614.5" y1="684.5" x2="614.5" y2="686.0"/>
<line x1="619.5" y1="684.5" x2="619.5" y2="686.0"/>
<line x1="624.5" y1="684.5" x2="624.5" y2="686.0"/>
<line x1="629.5" y1="684.5" x2="629.5" y2="686.0"/>
<line x1="634.5" y1="684.5" x2="634.5" y2="686.0"/>
<line x1="639.5" y1="684.5" x2="639.5" y2="686.0"/>
<line x1="644.5" y1="684.5" x2="644.5" y2="686.0"/>
<line x1="649.5" y1="684.5" x2="649.5" y2="686.0"/>
<line x1="654.5" y1="684.5" x2="654.5" y2="686.0"/>
<line x1="659.5" y1="684.5" x2="659.5" y2="686.0"/>
<line x1="664.5" y1="684.5" x2="664.5" y2="686.0"/>
<line x1="669.5" y1="684.5" x2="669.5" y2="686.0"/>
<line x1="674.5" y1="684.5" x2="674.5" y2="686.0"/>
<line x1="679.5" y1="684.5" x2="679.5" y2="686.0"/>
<line x1="684.5" y1="684.5" x2="684.5" y2="686.0"/>
<line x1="689.5" y1="684.5" x2="689.5" y2="686.0"/>
<line x1="694.5" y1="684.5" x2="694.5" y2="686.0"/>
<line x1="699.5" y1="684.5" x2="699.5" y2="686.0"/>
<line x1="704.5" y1="684.5" x2="704.5" y2="686.0"/>
<line x1="709.5" y1="684.5" x2="709.5" y2="686.0"/>
<line x1="714.5" y1="684.5" x2="714.5" y2="686.0"/>
<line x1="719.5" y1="684.5" x2="719.5" y2="686.0"/>
<line x1="724.5" y1="684.5" x2="724.5" y2="686.0"/>
<line x1="729.5" y1="684.5" x2="729.5" y2="686.0"/>
<line x1="734.5" y1="684.5" x2="734.5" y2="686.0"/>
<line x1="739.5" y1="684.5" x2="739.5" y2="686.0"/>
<line x1="744.5" y1="684.5" x2="744.5" y2="686.0"/>
<line x1="749.5" y1="684.5" x2="749.5" y2="686.0"/>
<line x1="754.5" y1="684.5" x2="754.5" y2="686.0"/>
<line x1="759.5" y1="684.5" x2="759.5" y2="686.0"/>
<line x1="764.5" y1="684.5" x2="764.5" y2="686.0"/>
<line x1="769.5" y1="684.5" x2="769.5" y2="686.0"/>
<line x1="774.5" y1="684.5" x2="774.5" y2="686.0"/>
<line x1="779.5" y1="684.5" x2="779.5" y2="686.0"/>
<line x1="784.5" y1="684.5" x2="784.5" y2="686.0"/>
<line x1="789.5" y1="684.5" x2="789.5" y2="686.0"/>
<line x1="794.5" y1="684.5" x2="794.5" y2="686.0"/>
<line x1="799.5" y1="684.5" x2="799.5" y2="686.0"/>
<line x1="804.5" y1="684.5" x2="804.5" y2="686.0"/>
<line x1="809.5" y1="684.5" x2="809.5" y2="686.0"/>
<line x1="814.5" y1="684.5" x2="814.5" y2="686.0"/>
<line x1="819.5" y1="684.5" x2="819.5" y2="686.0"/>
<line x1="824.5" y1="684.5" x2="824.5" y2="686.0"/>
<line x1="829.5" y1="684.5" x2="829.5" y2="686.0"/>
<line x1="834.5" y1="684.5" x2="834.5" y2="686.0"/>
<line x1="839.5" y1="684.5" x2="839.5" y2="686.0"/>
<line x1="844.5" y1="684.5" x2="844.5" y2="686.0"/>
<line x1="849.5" y1="684.5" x2="849.5" y2="686.0"/>
<line x1="854.5" y1="684.5" x2="854.5" y2="686.0"/>
<line x1="859.5" y1="684.5" x2="859.5" y2="686.0"/>
<line x1="864.5" y1="684.5" x2="864.5" y2="686.0"/>
<line x1="869.5" y1="684.5" x2="869.5" y2="686.0"/>
<line x1="874.5" y1="684.5" x2="874.5" y2="686.0"/>
<line x1="879.5" y1="684.5" x2="879.5" y2="686.0"/>
<line x1="884.5" y1="684.5" x2="884.5" y2="686.0"/>
<line x1="889.5" y1="684.5" x2="889.5" y2="686.0"/>
<line x1="894.5" y1="684.5" x2="894.5" y2="686.0"/>
<line x1="899.5" y1="684.5" x2="899.5" y2="686.0"/>
<line x1="904.5" y1="684.5" x2="904.5" y2="686.0"/>
<line x1="909.5" y1="684.5" x2="909.5" y2="686.0"/>
<line x1="914.5" y1="684.5" x2="914.5" y2="686.0"/>
<line x1="919.5" y1="684.5" x2="919.5" y2="686.0"/>
<line x1="924.5" y1="684.5" x2="924.5" y2="686.0"/>
<line x1="929.5" y1="684.5" x2="929.5" y2="686.0"/>
<line x1="934.5" y1="684.5" x2="934.5" y2="686.0"/>
<line x1="939.5" y1="684.5" x2="939.5" y2="686.0"/>
<line x1="944.5" y1="684.5" x2="944.5" y2="686.0"/>
<line x1="949.5" y1="684.5" x2="949.5" y2="686.0"/>
<line x1="954.5" y1="684.5" x2="954.5" y2="686.0"/>
<line x1="959.5" y1="684.5" x2="959.5" y2="686.0"/>
<line x1="964.5" y1="684.5" x2="964.5" y2="686.0"/>
<line x1="969.5" y1="684.5" x2="969.5" y2="686.0"/>
<line x1="974.5" y1="684.5" x2="974.5" y2="686.0"/>
<line x1="979.5" y1="684.5" x2="979.5" y2="686.0"/>
<line x1="984.5" y1="684.5" x2="984.5" y2="686.0"/>
<line x1="989.5" y1="684.5" x2="989.5" y2="686.0"/>
<line x1="994.5" y1="684.5" x2="994.5" y2="686.0"/>
<line x1="999.5" y1="684.5" x2="999.5" y2="686.0"/>
<line x1="1004.5" y1="684.5" x2="1004.5" y2="686.0"/>
<line x1="1009.5" y1="684.5" x2="1009.5" y2="686.0"/>
<line x1="1014.5" y1="684.5" x2="1014.5" y2="686.0"/>
<line x1="1019.5" y1="684.5" x2="1019.5" y2="686.0"/>
<line x1="1024.5" y1="684.5" x2="1024.5" y2="686.0"/>
<line x1="1029.5" y1="684.5" x2="1029.5" y2="686.0"/>
<line x1="1034.5" y1="684.5" x2="1034.5" y2="686.0"/>
<line x1="1039.5" y1="684.5" x2="1039.5" y2="686.0"/>
<line x1="1044.5" y1="684.5" x2="1044.5" y2="686.0"/>
<line x1="1049.5" y1="684.5" x2="1049.5" y2="686.0"/>
<line x1="1054.5" y1="684.5" x2="1054.5" y2="686.0"/>
<line x1="1059.5" y1="684.5" x2="1059.5" y2="686.0"/>
<line x1="1064.5" y1="684.5" x2="1064.5" y2="686.0"/>
<line x1="1069.5" y1="684.5" x2="1069.5" y2="686.0"/>
<line x1="1074.5" y1="684.5" x2="1074.5" y2="686.0"/>
<line x1="1079.5" y1="684.5" x2="1079.5" y2="686.0"/>
<line x1="1084.5" y1="684.5" x2="1084.5" y2="686.0"/>
<line x1="1089.5" y1="684.5" x2="1089.5" y2="686.0"/>
<line x1="1094.5" y1="684.5" x2="1094.5" y2="686.0"/>
<line x1="1099.5" y1="684.5" x2="1099.5" y2="686.0"/>
<line x1="1104.5" y1="684.5" x2="1104.5" y2="686.0"/>
<line x1="1109.5" y1="684.5" x2="1109.5" y2="686.0"/>
<line x1="1114.5" y1="684.5" x2="1114.5" y2="686.0"/>
<line x1="1119.5" y1="684.5" x2="1119.5" y2="686.0"/>
<line x1="1124.5" y1="684.5" x2="1124.5" y2="686.0"/>
<line x1="1129.5" y1="684.5" x2="1129.5" y2="686.0"/>
<line x1="1134.5" y1="684.5" x2="1134.5" y2="686.0"/>
<line x1="1139.5" y1="684.5" x2="1139.5" y2="686.0"/>
<line x1="1144.5" y1="684.5" x2="1144.5" y2="686.0"/>
<line x1="1149.5" y1="684.5" x2="1149.5" y2="686.0"/>
<line x1="1154.5" y1="684.5" x2="1154.5" y2="686.0"/>
<line x1="1159.5" y1="684.5" x2="1159.5" y2="686.0"/>
<line x1="1164.5" y1="684.5" x2="1164.5" y2="686.0"/>
<line x1="1169.5" y1="684.5" x2="1169.5" y2="686.0"/>
<line x1="1174.5" y1="684.5" x2="1174.5" y2="686.0"/>
<line x1="1179.5" y1="684.5" x2="1179.5" y2="686.0"/>
<line x1="1184.5" y1="684.5" x2="1184.5" y2="686.0"/>
<line x1="1189.5" y1="684.5" x2="1189.5" y2="686.0"/>
<line x1="1194.5" y1="684.5" x2="1194.5" y2="686.0"/>
<line x1="1199.5" y1="684.5" x2="1199.5" y2="686.0"/>
<line x1="1204.5" y1="684.5" x2="1204.5" y2="686.0"/>
<line x1="1209.5" y1="684.5" x2="1209.5" y2="686.0"/>
<line x1="1214.5" y1="684.5" x2="1214.5" y2="686.0"/>
<line x1="1219.5" y1="684.5" x2="1219.5" y2="686.0"/>
<line x1="1224.5" y1="684.5" x2="1224.5" y2="686.0"/>
<line x1="1229.5" y1="684.5" x2="1229.5" y2="686.0"/>
<line x1="1234.5" y1="684.5" x2="1234.5" y2="686.0"/>
<line x1="1239.5" y1="684.5" x2="1239.5" y2="686.0"/>
<line x1="1244.5" y1="684.5" x2="1244.5" y2="686.0"/>
<line x1="1249.5" y1="684.5" x2="1249.5" y2="686.0"/>
<line x1="1254.5" y1="684.5" x2="1254.5" y2="686.0"/>
<line x1="1259.5" y1="684.5" x2="1259.5" y2="686.0"/>
<line x1="1264.5" y1="684.5" x2="1264.5" y2="686.0"/>
<line x1="1269.5" y1="684.5" x2="1269.5" y2="686.0"/>
<line x1="1274.5" y1="684.5" x2="1274.5" y2="686.0"/>
<line x1="1279.5" y1="684.5" x2="1279.5" y2="686.0"/>
<line x1="1284.5" y1="684.5" x2="1284.5" y2="686.0"/>
<line x1="1289.5" y1="684.5" x2="1289.5" y2="686.0"/>
<line x1="1294.5" y1="684.5" x2="1294.5" y2="686.0"/>
<line x1="1299.5" y1="684.5" x2="1299.5" y2="686.0"/>
<line x1="1304.5" y1="684.5" x2="1304.5" y2="686.0"/>
<line x1="1309.5" y1="684.5" x2="1309.5" y2="686.0"/>
<line x1="1314.5" y1="684.5" x2="1314.5" y2="686.0"/>
<line x1="1319.5" y1="684.5" x2="1319.5" y2="686.0"/>
<line x1="1324.5" y1="684.5" x2="1324.5" y2="686.0"/>
<line x1="1329.5" y1="684.5" x2="1329.5" y2="686.0"/>
<line x1="1334.5" y1="684.5" x2="1334.5" y2="686.0"/>
<line x1="1339.5" y1="684.5" x2="1339.5" y2="686.0"/>
<line x1="1344.5" y1="684.5" x2="1344.5" y2="686.0"/>
<line x1="1349.5" y1="684.5" x2="1349.5" y2="686.0"/>
<line x1="1354.5" y1="684.5" x2="1354.5" y2="686.0"/>
<line x1="1359.5" y1="684.5" x2="1359.5" y2="686.0"/>
<line x1="1364.5" y1="684.5" x2="1364.5" y2="686.0"/>
<line x1="1369.5" y1="684.5" x2="1369.5" y2="686.0"/>
<line x1="1374.5" y1="684.5" x2="1374.5" y2="686.0"/>
<line x1="1379.5" y1="684.5" x2="1379.5" y2="686.0"/>
<line x1="1384.5" y1="684.5" x2="1384.5" y2="686.0"/>
<line x1="1389.5" y1="684.5" x2="1389.5" y2="686.0"/>
<line x1="1394.5" y1="684.5" x2="1394.5" y2="686.0"/>
<line x1="1399.5" y1="684.5" x2="1399.5" y2="686.0"/>
<line x1="1404.5" y1="684.5" x2="1404.5" y2="686.0"/>
<line x1="1409.5" y1="684.5" x2="1409.5" y2="686.0"/>
<line x1="1414.5" y1="684.5" x2="1414.5" y2="686.0"/>
<line x1="1419.5" y1="684.5" x2="1419.5" y2="686.0"/>
<line x1="1424.5" y1="684.5" x2="1424.5" y2="686.0"/>
<line x1="1429.5" y1="684.5" x2="1429.5" y2="686.0"/>
<line x1="1434.5" y1="684.5" x2="1434.5" y2="686.0"/>
<line x1="1439.5" y1="684.5" x2="1439.5" y2="686.0"/>
<line x1="1444.5" y1="684.5" x2="1444.5" y2="686.0"/>
<line x1="1449.5" y1="684.5" x2="1449.5" y2="686.0"/>
<line x1="1454.5" y1="684.5" x2="1454.5" y2="686.0"/>
<line x1="1459.5" y1="684.5" x2="1459.5" y2="686.0"/>
<line x1="1464.5" y1="684.5" x2="1464.5" y2="686.0"/>
<line x1="1469.5" y1="684.5" x2="1469.5" y2="686.0"/>
<line x1="1474.5" y1="684.5" x2="1474.5" y2="686.0"/>
<line x1="1479.5" y1="684.5" x2="1479.5" y2="686.0"/>
<line x1="1484.5" y1="684.5" x2="1484.5" y2="686.0"/>
<line x1="1489.5" y1="684.5" x2="1489.5" y2="686.0"/>
<line x1="1494.5" y1="684.5" x2="1494.5" y2="686.0"/>
<line x1="1499.5" y1="684.5" x2="1499.5" y2="686.0"/>
<line x1="1504.5" y1="684.5" x2="1504.5" y2="686.0"/>
<line x1="1509.5" y1="684.5" x2="1509.5" y2="686.0"/>
<line x1="1514.5" y1="684.5" x2="1514.5" y2="686.0"/>
<line x1="1519.5" y1="684.5" x2="1519.5" y2="686.0"/>
<line x1="1524.5" y1="684.5" x2="1524.5" y2="686.0"/>
<line x1="1529.5" y1="684.5" x2="1529.5" y2="686.0"/>
<line x1="1534.5" y1="684.5" x2="1534.5" y2="686.0"/>
<line x1="1539.5" y1="684.5" x2="1539.5" y2="686.0"/>
<line x1="1544.5" y1="684.5" x2="1544.5" y2="686.0"/>
<line x1="1549.5" y1="684.5" x2="1549.5" y2="686.0"/>
</g>
<text class="ax" x="1560" y="340.5">600</text>
<text class="ax" x="1560" y="293.5">800</text>
<text class="ax" x="1560" y="257.5">1000</text>
<text class="ax" x="1560" y="227.5">1200</text>
<text class="ax" x="1560" y="202.5">1400</text>
<text class="ax" x="1560" y="180.5">1600</text>
<text class="ax" x="1560" y="161.5">1800</text>
<text class="ax" x="1560" y="144.5">2000</text>
<text class="ax" x="1560" y="128.5">2200</text>
<text class="ax" x="1560" y="114.5">2400</text>
<text class="ax" x="1560" y="101.5">2600</text>
<text class="ax" x="1560" y="89.5">2800</text>
<text class="ax" x="1560" y="78.5">3000</text>
<text class="ax" x="1560" y="67.5">3200</text>
<text class="ax" x="1560" y="57.5">3400</text>
<text class="ax" x="1560" y="48.5">3600</text>
<text class="ax" x="1560" y="671.5">10.0</text>
<text class="ax" x="1560" y="633.5">12.5</text>
<text class="ax" x="1560" y="602.5">15.0</text>
<text class="ax" x="1560" y="575.5">17.5</text>
<text class="ax" x="1560" y="553.5">20.0</text>
<text class="ax" x="1560" y="532.5">22.5</text>
<text class="ax" x="1560" y="514.5">25.0</text>
<text class="ax" x="1560" y="498.5">27.5</text>
<text class="ax" x="1560" y="483.5">30.0</text>
<text class="ax" x="1560" y="470.5">32.5</text>
<text class="ax" x="1560" y="457.5">35.0</text>
<text class="ax" x="1560" y="445.5">37.5</text>
<text class="ax" x="1560" y="434.5">40.0</text>
<text class="ax" x="1560" y="424.5">42.5</text>
<text class="ax" x="1560" y="414.5">45.0</text>
<text class="ax" x="1560" y="405.5">47.5</text>
<text class="ax" x="1560" y="396.5">50.0</text>
<text class="ax" x="1560" y="388.5">52.5</text>
<text class="ax" x="1560" y="380.5">55.0</text>
<text class="ax" x="1560" y="372.5">57.5</text>
<text class="ax" x="1560" y="365.5">60.0</text>
<text class="yr" x="49.1" y="694.5">1996</text>
<text class="yr" x="109.1" y="694.5">1997</text>
<text class="yr" x="169.1" y="694.5">1998</text>
<text class="yr" x="229.1" y="694.5">1999</text>
<text class="yr" x="289.1" y="694.5">2000</text>
<text class="yr" x="349.1" y="694.5">2001</text>
<text class="yr" x="409.1" y="694.5">2002</text>
<text class="yr" x="469.1" y="694.5">2003</text>
<text class="yr" x="529.1" y="694.5">2004</text>
<text class="yr" x="589.1" y="694.5">2005</text>
<text class="yr" x="649.1" y="694.5">2006</text>
<text class="yr" x="709.1" y="694.5">2007</text>
<text class="yr" x="769.1" y="694.5">2008</text>
<text class="yr" x="829.1" y="694.5">2009</text>
<text class="yr" x="889.1" y="694.5">2010</text>
<text class="yr" x="949.1" y="694.5">2011</text>
<text class="yr" x="1009.1" y="694.5">2012</text>
<text class="yr" x="1069.1" y="694.5">2013</text>
<text class="yr" x="1129.1" y="694.5">2014</text>
<text class="yr" x="1189.1" y="694.5">2015</text>
<text class="yr" x="1249.1" y="694.5">2016</text>
<text class="yr" x="1309.1" y="694.5">2017</text>
<text class="yr" x="1369.1" y="694.5">2018</text>
<text class="yr" x="1429.1" y="694.5">2019</text>
<text class="yr" x="1489.1" y="694.5">2020</text>
<text class="ax" x="1537" y="694.5">2021</text>
<path d="M1554.0,35 L1558.0,29.5 L1599.5,29.5 L1599.5,40.5 L1558.0,40.5 Z" fill="#fff" stroke="#000" stroke-width="1.1"/>
<text x="1559.2" y="38.8" font-size="10.7" font-weight="bold" fill="#000" stroke="#000" stroke-width="0.35">3841.61</text>
<path d="M1554.0,478 L1558.0,472.5 L1587.5,472.5 L1587.5,483.5 L1558.0,483.5 Z" fill="#fff" stroke="#b0204a" stroke-width="1.1"/>
<text x="1559.2" y="481.8" font-size="10.2" font-weight="normal" fill="#000">30.52</text>
<path d="M1554.0,535 L1558.0,529.5 L1588,529.5 L1588,540.5 L1558.0,540.5 Z" fill="#fff" stroke="#000" stroke-width="1.1"/>
<text x="1559.2" y="538.8" font-size="10.7" font-weight="bold" fill="#000" stroke="#000" stroke-width="0.35">21.94</text>
<text x="16.7" y="13.8" font-size="13.4" font-weight="bold" fill="#000" stroke="#000" stroke-width="0.4" textLength="27" lengthAdjust="spacingAndGlyphs">$VIX</text>
<text x="48.7" y="13" font-size="10.4" fill="#000" textLength="164.5" lengthAdjust="spacing">Volatility Index - New Methodology</text>
<text x="219.5" y="13" font-size="9.8" fill="#000" textLength="23" lengthAdjust="spacingAndGlyphs">INDX</text>
<text x="16.3" y="25.8" font-size="10" fill="#000" textLength="103" lengthAdjust="spacing">22-Jan-2021 10:15am</text>
<text x="1556" y="13" font-size="10.4" fill="#3c465e" text-anchor="end">© StockCharts.com</text>
<text x="1210" y="25.8" font-size="10.3" font-weight="bold" fill="#000" stroke="#000" stroke-width="0.3" textLength="28" lengthAdjust="spacingAndGlyphs">Open</text>
<text x="1242" y="25.8" font-size="10" font-weight="normal" fill="#000" textLength="26.8" lengthAdjust="spacing">23.04</text>
<text x="1275" y="25.8" font-size="10.3" font-weight="bold" fill="#000" stroke="#000" stroke-width="0.3" textLength="23.5" lengthAdjust="spacingAndGlyphs">High</text>
<text x="1302" y="25.8" font-size="10" font-weight="normal" fill="#000" textLength="26.8" lengthAdjust="spacing">29.19</text>
<text x="1335" y="25.8" font-size="10.3" font-weight="bold" fill="#000" stroke="#000" stroke-width="0.3" textLength="23" lengthAdjust="spacingAndGlyphs">Low</text>
<text x="1362" y="25.8" font-size="10" font-weight="normal" fill="#000" textLength="26.8" lengthAdjust="spacing">21.09</text>
<text x="1395" y="25.8" font-size="10.3" font-weight="bold" fill="#000" stroke="#000" stroke-width="0.3" textLength="23.5" lengthAdjust="spacingAndGlyphs">Last</text>
<text x="1422" y="25.8" font-size="10" font-weight="normal" fill="#000" textLength="26.8" lengthAdjust="spacing">21.94</text>
<text x="1455" y="25.8" font-size="10.3" font-weight="bold" fill="#000" stroke="#000" stroke-width="0.3" textLength="21.5" lengthAdjust="spacingAndGlyphs">Chg</text>
<text x="1480.5" y="25.8" font-size="10" font-weight="normal" fill="#000" textLength="65.5" lengthAdjust="spacing">-0.81 (-3.56%)</text>
<path d="M1549.5,20.5 L1556,20.5 L1552.75,24.5 Z" fill="#c0185a"/>
<rect x="17" y="29" width="93" height="12.5" fill="#fff"/><rect x="17" y="357" width="134" height="12" fill="#fff"/><rect x="17" y="369" width="73" height="12" fill="#fff"/>
<line x1="19" y1="35" x2="28" y2="35" stroke="#0c1c5c" stroke-width="2"/>
<text class="leg" x="31.5" y="38.9" textLength="76.5" lengthAdjust="spacing">$SPX 3841.61</text>
<line x1="19" y1="363" x2="28" y2="363" stroke="#000" stroke-width="2"/>
<text class="leg" x="31.5" y="366.7" textLength="117.5" lengthAdjust="spacing">$VIX (Monthly) 21.94</text>
<line x1="19" y1="374" x2="28" y2="374" stroke="#c8284f" stroke-width="1.6"/>
<text x="29.5" y="377.8" font-size="9.6" fill="#a3123c" textLength="58.5" lengthAdjust="spacing">MA(12) 30.52</text>
</svg></body></html>
